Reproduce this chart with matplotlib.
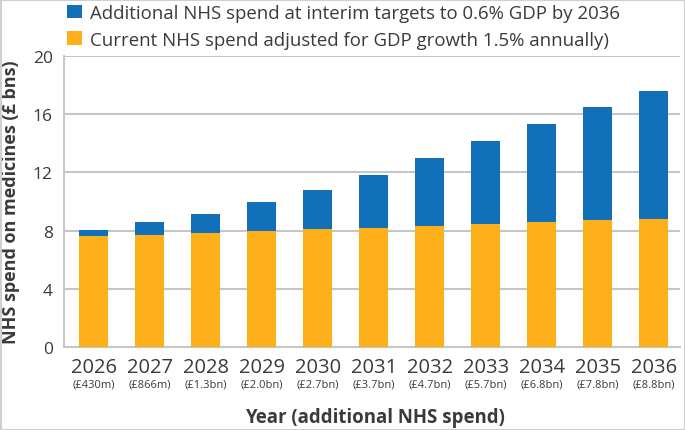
import matplotlib
matplotlib.use("Agg")
import matplotlib.pyplot as plt
from matplotlib.patches import Rectangle
from matplotlib.transforms import blended_transform_factory

years = ["2026", "2027", "2028", "2029", "2030", "2031", "2032", "2033", "2034", "2035", "2036"]
extra_labels = ["(£430m)", "(£866m)", "(£1.3bn)", "(£2.0bn)", "(£2.7bn)", "(£3.7bn)",
                "(£4.7bn)", "(£5.7bn)", "(£6.8bn)", "(£7.8bn)", "(£8.8bn)"]
current_spend = [7.60, 7.72, 7.84, 7.97, 8.08, 8.15, 8.30, 8.44, 8.56, 8.70, 8.82]
additional_spend = [0.43, 0.866, 1.3, 2.0, 2.7, 3.7, 4.7, 5.7, 6.8, 7.8, 8.8]
yticks = [0, 4, 8, 12, 16, 20]

BLUE = "#1170b8"
ORANGE = "#fdb01a"
TXT = "#3a3a3a"
GRID = "#c6c6c6"

plt.rcParams['font.family'] = ['Open Sans', 'DejaVu Sans']

fig = plt.figure(figsize=(6.85, 4.31), dpi=100)
ax = fig.add_axes([64/685, 1-348/431, (680-64)/685, (348-57)/431])

x = list(range(len(years)))
ax.bar(x, current_spend, width=0.52, color=ORANGE, zorder=3,
       label="Current NHS spend adjusted for GDP growth 1.5% annually)")
ax.bar(x, additional_spend, bottom=current_spend, width=0.52, color=BLUE, zorder=3,
       label="Additional NHS spend at interim targets to 0.6% GDP by 2036")

ax.set_ylim(0, 20)
ax.set_xlim(-0.53, 10.47)
ax.set_yticks(yticks)
ax.set_yticklabels([str(t) for t in yticks], fontsize=12.5, color=TXT)
ax.yaxis.grid(True, color=GRID, linewidth=1.5, zorder=0)
ax.set_axisbelow(True)
ax.tick_params(axis='both', length=0)
ax.tick_params(axis='y', pad=8)
ax.tick_params(axis='x', pad=7)
ax.set_xticks(x)
ax.set_xticklabels(years, fontsize=14.5, color=TXT)

for s in ['top', 'right']:
    ax.spines[s].set_visible(False)
for s in ['left', 'bottom']:
    ax.spines[s].set_color(GRID)
    ax.spines[s].set_linewidth(1.5)

tr = blended_transform_factory(ax.transData, ax.transAxes)
for i, lab in enumerate(extra_labels):
    ax.text(i, -37/291, lab, transform=tr, ha='center', va='center', fontsize=8, color=TXT)

ax.set_ylabel("NHS spend on medicines (£ bns)", fontsize=13, fontweight='bold', color=TXT, labelpad=9)
fig.text((245+505)/2/685, 1-418/431, "Year (additional NHS spend)", ha='center', va='center',
         fontsize=13.4, fontweight='bold', color=TXT)

h, l = ax.get_legend_handles_labels()
leg = fig.legend(h[::-1], l[::-1], loc='upper left', bbox_to_anchor=(56/685, 1.0 + 6/431),
                 frameon=False, fontsize=13.4, handlelength=0.8, handleheight=0.75,
                 handletextpad=0.4, labelspacing=0.45, borderaxespad=0.2)
for t in leg.get_texts():
    t.set_color(TXT)

fig.patches.append(Rectangle((0.5/685, 0.5/431), 1-1/685, 1-1/431, transform=fig.transFigure,
                             fill=False, edgecolor="#d0d0d0", linewidth=1.5))

fig.savefig("out.png", dpi=100)
